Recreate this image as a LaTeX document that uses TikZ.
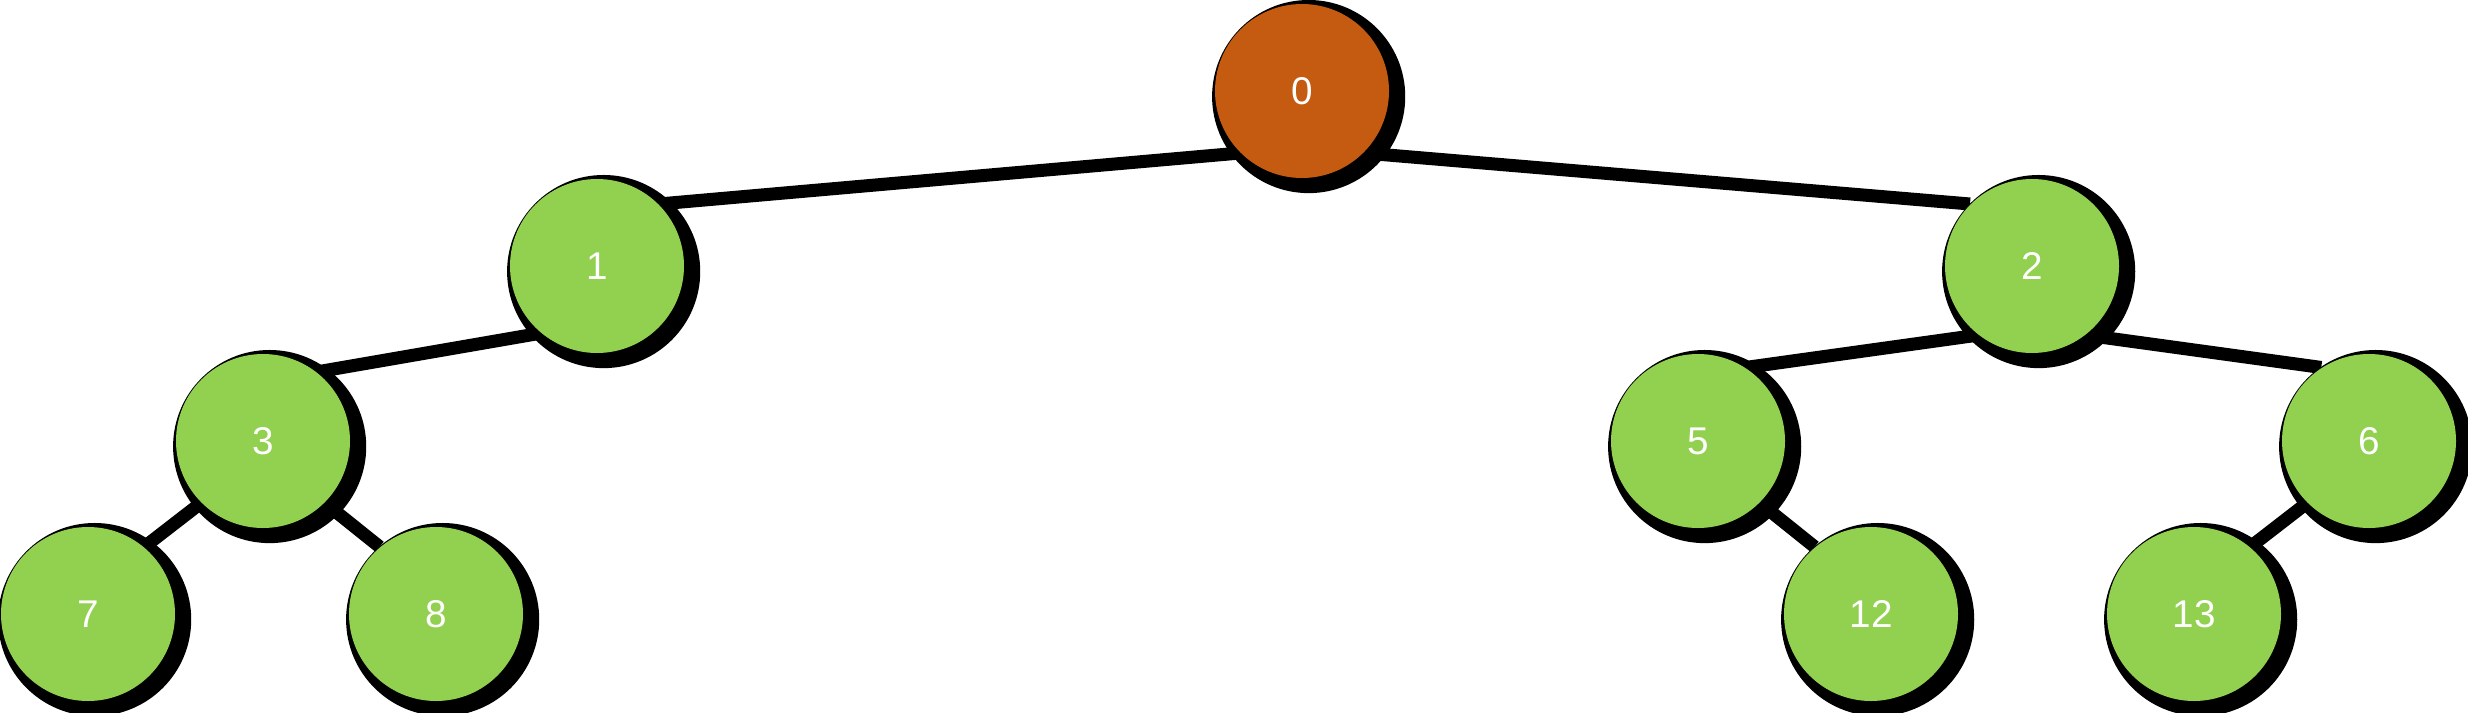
\documentclass[tikz,border=0pt]{standalone}
\usepackage{fontspec}
\setmainfont{Liberation Sans}
\usetikzlibrary{shadows,backgrounds}
\definecolor{rootc}{RGB}{197,90,17}
\definecolor{leafc}{RGB}{146,208,80}
\begin{document}
\begin{tikzpicture}
\useasboundingbox (0,0) rectangle (24.68,7.12);
\tikzset{
  tnode/.style={circle, minimum size=1.74cm, inner sep=0pt, text=white,
    font=\fontsize{11}{13}\selectfont,
    drop shadow={fill=black, opacity=1, shadow xshift=0.06cm, shadow yshift=-0.05cm, shadow scale=1.11}},
  greennode/.style={tnode, fill=leafc},
  rootnode/.style={tnode, fill=rootc},
  edge/.style={draw=black, line width=0.13cm}
}
\node[rootnode] (n0) at (13.02,6.21) {0};
\node[greennode] (n1) at (5.97,4.46) {1};
\node[greennode] (n2) at (20.32,4.46) {2};
\node[greennode] (n3) at (2.63,2.71) {3};
\node[greennode] (n5) at (16.98,2.71) {5};
\node[greennode] (n6) at (23.69,2.71) {6};
\node[greennode] (n7) at (0.88,0.98) {7};
\node[greennode] (n8) at (4.36,0.98) {8};
\node[greennode] (n12) at (18.71,0.98) {12};
\node[greennode] (n13) at (21.94,0.98) {13};
\begin{scope}[on background layer]
\draw[edge] (n0.225) -- (n1.45);
\draw[edge] (n0.315) -- (n2.135);
\draw[edge] (n1.230) -- (n3.52);
\draw[edge] (n2.232) -- (n5.57);
\draw[edge] (n2.308) -- (n6.123);
\draw[edge] (n3.225) -- (n7.50);
\draw[edge] (n3.315) -- (n8.130);
\draw[edge] (n5.315) -- (n12.130);
\draw[edge] (n6.225) -- (n13.50);
\end{scope}
\end{tikzpicture}
\end{document}
